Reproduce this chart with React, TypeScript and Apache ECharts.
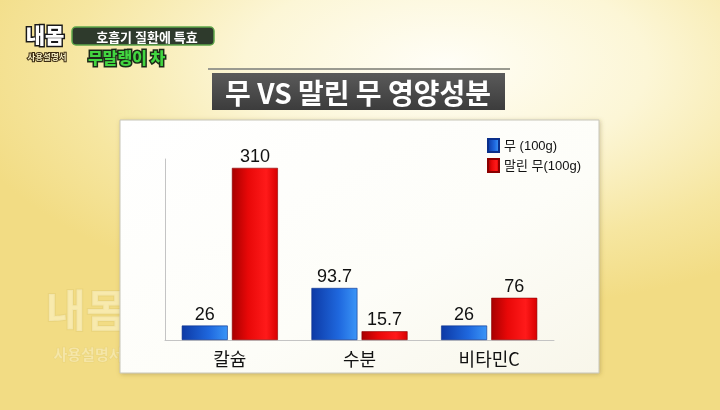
import React, { useEffect, useRef } from "react";
import * as echarts from "echarts";

const categories = ["칼슘", "수분", "비타민C"];
const rawRadish = [26, 93.7, 26];
const driedRadish = [310, 15.7, 76];
const seriesNames = ["무 (100g)", "말린 무(100g)"];

const FONT = "'Liberation Sans', 'Noto Sans CJK KR', sans-serif";
const KFONT = "'Noto Sans CJK KR', 'Liberation Sans', sans-serif";

export default function App() {
  const ref = useRef<HTMLDivElement>(null);
  useEffect(() => {
    if (!ref.current) return;
    const chart = echarts.init(ref.current, undefined, { renderer: "svg" });
    const blue = new echarts.graphic.LinearGradient(0, 0, 1, 0, [
      { offset: 0, color: "#0d3aa6" },
      { offset: 0.6, color: "#1f68de" },
      { offset: 1, color: "#3a95f7" },
    ]);
    const red = new echarts.graphic.LinearGradient(0, 0, 1, 0, [
      { offset: 0, color: "#a80000" },
      { offset: 0.35, color: "#e80808" },
      { offset: 0.75, color: "#ff1a1a" },
      { offset: 1, color: "#d80000" },
    ]);
    chart.setOption({
      animation: false,
      graphic: [
        // faint watermark (behind panel)
        {
          type: "text",
          x: 86,
          y: 308,
          z: -5,
          style: {
            text: "내몸",
            font: `bold 44px ${KFONT}`,
            fill: "rgba(255,250,225,0.45)",
            stroke: "rgba(200,175,90,0.18)",
            lineWidth: 2,
            align: "center",
            verticalAlign: "middle",
          },
        },
        {
          type: "text",
          x: 88,
          y: 353,
          z: -5,
          style: {
            text: "사용설명서",
            font: `bold 15px ${KFONT}`,
            fill: "rgba(255,250,225,0.4)",
            stroke: "rgba(200,175,90,0.18)",
            lineWidth: 1,
            align: "center",
            verticalAlign: "middle",
          },
        },
        // logo
        {
          type: "text",
          x: 45,
          y: 34,
          z: 10,
          style: {
            text: "내몸",
            font: `900 21px ${KFONT}`,
            fill: "#ffffff",
            stroke: "#1a1a1a",
            lineWidth: 3,
            align: "center",
            verticalAlign: "middle",
          },
        },
        {
          type: "text",
          x: 47,
          y: 56,
          z: 10,
          style: {
            text: "사용설명서",
            font: `bold 8.5px ${KFONT}`,
            fill: "#f4ecc0",
            stroke: "#3a2a10",
            lineWidth: 2,
            align: "center",
            verticalAlign: "middle",
          },
        },
        {
          type: "rect",
          z: 9,
          shape: { x: 72, y: 27, width: 142, height: 18, r: 4 },
          style: { fill: "#2e3a2c", stroke: "#5da64a", lineWidth: 1.5 },
        },
        {
          type: "text",
          x: 147,
          y: 36,
          z: 10,
          style: {
            text: "호흡기 질환에 특효",
            font: `bold 13px ${KFONT}`,
            fill: "#ffffff",
            align: "center",
            verticalAlign: "middle",
          },
        },
        {
          type: "text",
          x: 88,
          y: 57,
          z: 10,
          style: {
            text: "무말랭이 차",
            font: `900 16px ${KFONT}`,
            fill: "#42d640",
            stroke: "#1c2a18",
            lineWidth: 3,
            verticalAlign: "middle",
          },
        },
        // title
        {
          type: "line",
          shape: { x1: 208, y1: 69, x2: 510, y2: 69 },
          style: { stroke: "#9a9a90", lineWidth: 2 },
        },
        {
          type: "rect",
          shape: { x: 212, y: 73, width: 293, height: 37 },
          style: {
            fill: new echarts.graphic.LinearGradient(0, 0, 0, 1, [
              { offset: 0, color: "#5a5a5a" },
              { offset: 1, color: "#3c3c3c" },
            ]),
          },
        },
        {
          type: "text",
          x: 358,
          y: 92,
          style: {
            text: "무 VS 말린 무 영양성분",
            font: `bold 28px ${KFONT}`,
            fill: "#ffffff",
            align: "center",
            verticalAlign: "middle",
          },
        },
        // panel
        {
          type: "rect",
          z: -1,
          shape: { x: 120, y: 120, width: 479, height: 253 },
          style: {
            fill: new echarts.graphic.LinearGradient(0, 0, 1, 1, [
              { offset: 0, color: "#ffffff" },
              { offset: 0.6, color: "#fdfdf8" },
              { offset: 1, color: "#f8f6ea" },
            ]),
            stroke: "#c8c6b8",
            lineWidth: 1,
            shadowBlur: 4,
            shadowColor: "rgba(120,100,40,0.35)",
            shadowOffsetX: 1,
            shadowOffsetY: 1,
          },
        },
      ],
      legend: {
        orient: "vertical",
        left: 482,
        top: 133,
        itemWidth: 11,
        itemHeight: 13,
        itemGap: 5,
        icon: "rect",
        textStyle: { fontFamily: FONT, fontSize: 13, color: "#111" },
        data: seriesNames,
      },
      grid: { left: 165, right: 166, top: 159, bottom: 70 },
      xAxis: {
        type: "category",
        data: categories,
        axisLine: { lineStyle: { color: "#c4c4c4", width: 1 } },
        axisTick: { show: false },
        axisLabel: {
          fontFamily: KFONT,
          fontSize: 18,
          color: "#111",
          margin: 9,
        },
      },
      yAxis: {
        type: "value",
        min: 0,
        max: 326,
        axisLine: { show: true, lineStyle: { color: "#c4c4c4", width: 1 } },
        axisTick: { show: false },
        axisLabel: { show: false },
        splitLine: { show: false },
      },
      series: [
        {
          name: seriesNames[0],
          type: "bar",
          data: rawRadish,
          barWidth: 46,
          barGap: "9%",
          itemStyle: { color: blue, borderColor: "#0a2f8a", borderWidth: 0.6 },
          label: {
            show: true,
            position: "top",
            distance: 3,
            fontFamily: FONT,
            fontSize: 18,
            color: "#111",
          },
        },
        {
          name: seriesNames[1],
          type: "bar",
          data: driedRadish,
          barWidth: 46,
          itemStyle: { color: red, borderColor: "#8a0000", borderWidth: 0.6 },
          label: {
            show: true,
            position: "top",
            distance: 3,
            fontFamily: FONT,
            fontSize: 18,
            color: "#111",
          },
        },
      ],
    });
    return () => chart.dispose();
  }, []);
  return (
    <div
      style={{
        position: "fixed",
        left: 0,
        top: 0,
        width: 720,
        height: 410,
        background:
          "radial-gradient(ellipse 70% 60% at 62% 16%, #fffef7 0%, #fcf6d6 40%, #f6e6a0 75%, #f2dc84 100%)",
      }}
    >
      <div ref={ref} style={{ width: 720, height: 410 }} />
    </div>
  );
}
